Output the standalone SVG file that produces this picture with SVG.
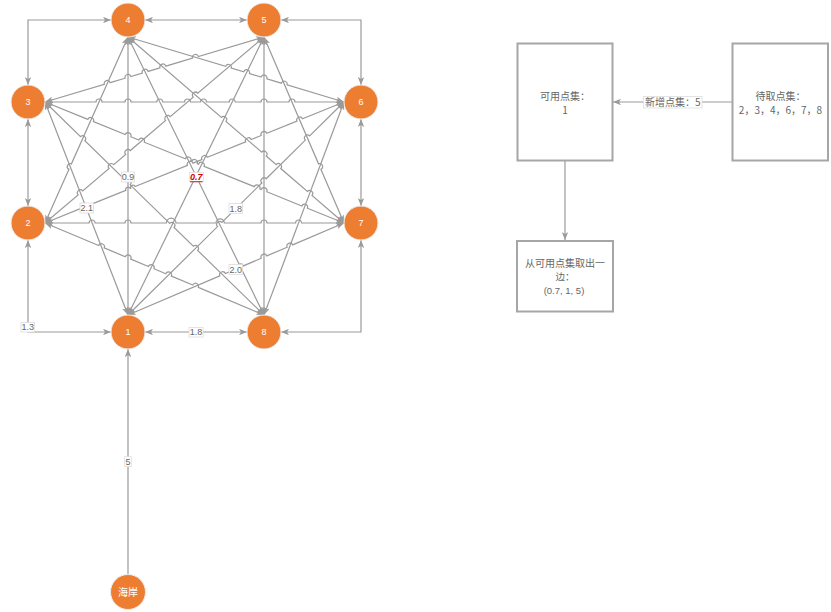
<svg xmlns="http://www.w3.org/2000/svg" width="831" height="612" viewBox="0 0 831 612">
<style>
.e{fill:none;stroke:#9a9a9a;stroke-width:1.2;marker-start:url(#a);marker-end:url(#a)}
.s{fill:none;stroke:#9a9a9a;stroke-width:1.2;marker-end:url(#a)}
.n circle{fill:#ED7D31;stroke:#eeeeee;stroke-width:1}
.n text{fill:#ffffff;font-family:"Liberation Sans","Noto Sans CJK SC",sans-serif;font-size:9px;text-anchor:middle}
.lb rect{fill:#ffffff;stroke:#dddddd;stroke-width:0.8}
.lb text{fill:#666666;font-family:"Liberation Sans",sans-serif;font-size:9px;text-anchor:middle}
.bx rect{fill:#ffffff;stroke:#a6a6a6;stroke-width:2}
.bx text{fill:#666666;font-family:"Noto Sans CJK SC","Liberation Sans",sans-serif;font-size:10px;text-anchor:middle}
.bx text.l{font-family:"Liberation Sans",sans-serif}
</style>
<defs>
<marker id="a" viewBox="0 0 10 8" refX="10" refY="4" markerWidth="8" markerHeight="6.4" markerUnits="userSpaceOnUse" orient="auto-start-reverse">
<path d="M0,0 L10,4 L0,8 L2.5,4 z" fill="#9a9a9a"/>
</marker>
</defs>
<g id="connectors">
<path class="e" d="M28,85 L28,20 L111,20"/>
<path class="e" d="M145,20 L247,20"/>
<path class="e" d="M281,20 L361,20 L361,85"/>
<path class="e" d="M361,119 L361,206"/>
<path class="e" d="M361,240 L361,332 L281,332"/>
<path class="e" d="M247,332 L145,332"/>
<path class="e" d="M111,332 L28,332 L28,240"/>
<path class="e" d="M28,206 L28,119"/>
<path class="s" d="M128,575 L128,349"/>
<path class="e" d="M45,102 L128,315"/>
<path class="e" d="M128,37 L128,315"/>
<path class="e" d="M128,315 L264,37"/>
<path class="e" d="M264,37 L264,315"/>
<path class="e" d="M344,102 L264,315"/>
<path class="e" d="M45,223 L68.98,169.34 A3,3 0 0 1 71.42,163.86 L128,37"/>
<path class="e" d="M128,37 L194.68,173.31 A3,3 0 0 1 197.32,178.70 L264,315"/>
<path class="e" d="M264,37 L318.52,163.84 A3,3 0 0 1 320.89,169.36 L344,223"/>
<path class="e" d="M128,315 L217.56,226.61 A3,3 0 0 1 221.84,222.39 L261.86,183.01 A3,3 0 0 1 266.14,178.79 L305.36,140.11 A3,3 0 0 1 309.64,135.89 L344,102"/>
<path class="e" d="M128,315 L219.84,275.88 A3,3 0 0 1 225.36,273.52 L237.84,268.28 A3,3 0 0 1 243.36,265.92 L261.24,258.28 A3,3 0 0 1 266.76,255.92 L287.14,247.28 A3,3 0 0 1 292.66,244.92 L344,223"/>
<path class="e" d="M45,223 L78.11,194.84 A3,3 0 0 1 82.69,190.96 L109.11,168.54 A3,3 0 0 1 113.69,164.66 L125.71,154.44 A3,3 0 0 1 130.29,150.56 L165.61,120.54 A3,3 0 0 1 170.19,116.66 L193.21,97.12 A3,3 0 0 1 197.79,93.24 L264,37"/>
<path class="e" d="M45,223 L82.92,207.66 A3,3 0 0 1 88.48,205.41 L125.78,190.31 A2.4,2.4 0 0 1 130.22,188.51 L130.68,188.33 A2.4,2.4 0 0 1 135.12,186.53 L187.42,165.36 A3,3 0 0 1 192.98,163.11 L201.82,159.54 A3,3 0 0 1 207.38,157.29 L245.62,141.81 A3,3 0 0 1 251.18,139.56 L261.22,135.50 A3,3 0 0 1 266.78,133.25 L296.92,121.05 A3,3 0 0 1 302.48,118.80 L344,102"/>
<path class="e" d="M45,223 L89.1,223 A3,3 0 0 1 95.1,223 L125,223 A3,3 0 0 1 131,223 L166.4,223 A4.8,4.8 0 0 1 176,223 L216,223 A4.15,4.15 0 0 1 224.3,223 L261,223 A3,3 0 0 1 267,223 L295.6,223 A3,3 0 0 1 301.6,223 L344,223"/>
<path class="e" d="M45,223 L98.63,245.54 A3,3 0 0 1 104.17,247.86 L125.23,256.74 A3,3 0 0 1 130.77,259.06 L148.43,266.46 A3,3 0 0 1 153.97,268.78 L165.83,273.77 A3,3 0 0 1 171.37,276.09 L192.73,285.07 A3,3 0 0 1 198.27,287.39 L264,315"/>
<path class="e" d="M45,102 L104.32,84.39 A3,3 0 0 1 110.08,82.69 L125.12,78.22 A3,3 0 0 1 130.88,76.52 L142.32,73.12 A3,3 0 0 1 148.08,71.42 L160.02,67.86 A3,3 0 0 1 165.78,66.16 L192.62,58.19 A3,3 0 0 1 198.38,56.49 L264,37"/>
<path class="e" d="M45,102 L96,102 A3,3 0 0 1 102,102 L125,102 A3,3 0 0 1 131,102 L156.8,102 A3,3 0 0 1 162.8,102 L184.5,102 A3,3 0 0 1 190.5,102 L200.5,102 A3,3 0 0 1 206.5,102 L229.2,102 A3,3 0 0 1 235.2,102 L261,102 A3,3 0 0 1 267,102 L289,102 A3,3 0 0 1 295,102 L344,102"/>
<path class="e" d="M45,102 L87.92,119.38 A3,3 0 0 1 93.48,121.63 L125.22,134.47 A3,3 0 0 1 130.78,136.72 L138.72,139.94 A3,3 0 0 1 144.28,142.19 L185.32,158.79 A3,3 0 0 1 190.88,161.04 L191.72,161.38 A3,3 0 0 1 197.28,163.63 L198.52,164.14 A3,3 0 0 1 204.08,166.39 L254.22,186.68 A3,3 0 0 1 259.78,188.93 L261.22,189.51 A3,3 0 0 1 266.78,191.76 L301.82,205.94 A3,3 0 0 1 307.38,208.19 L344,223"/>
<path class="e" d="M45,102 L80.55,136.57 A3,3 0 0 1 84.85,140.75 L125.85,180.63 A3,3 0 0 1 130.15,184.81 L169.75,223.33 A3,3 0 0 1 174.05,227.51 L193.35,246.28 A3,3 0 0 1 197.65,250.46 L264,315"/>
<path class="e" d="M128,37 L225.53,66.35 A3,3 0 0 1 231.27,68.08 L243.73,71.82 A3,3 0 0 1 249.47,73.55 L261.13,77.06 A3,3 0 0 1 266.87,78.79 L281.33,83.14 A3,3 0 0 1 287.07,84.87 L344,102"/>
<path class="e" d="M128,37 L221.43,117.45 A3,3 0 0 1 225.97,121.37 L261.73,152.15 A3,3 0 0 1 266.27,156.07 L276.23,164.64 A3,3 0 0 1 280.77,168.56 L307.43,191.50 A3,3 0 0 1 311.97,195.42 L344,223"/>
<path class="s" d="M732,102 L613,102"/>
<path class="s" d="M565,161 L565,240"/>
<g class="lb">
<rect x="21" y="322.5" width="13.5" height="9.5"/><text x="27.75" y="330.3">1.3</text>
<rect x="189" y="327.5" width="14" height="9.5"/><text x="196" y="335.3">1.8</text>
<rect x="121.5" y="172" width="13" height="10"/><text x="128" y="180.3">0.9</text>
<rect x="80" y="203" width="13.5" height="10"/><text x="86.75" y="211.3">2.1</text>
<rect x="229" y="203.5" width="13.5" height="10"/><text x="235.75" y="211.8">1.8</text>
<rect x="229" y="264.5" width="13.5" height="10"/><text x="235.75" y="272.8">2.0</text>
<rect x="124.7" y="456.7" width="6.6" height="10"/><text x="128" y="465">5</text>
<rect x="189.3" y="172.3" width="14" height="9.5"/><text x="196.3" y="180.3" style="fill:#cc0000;font-weight:bold;font-style:italic;text-decoration:underline">0.7</text>
<rect x="643.5" y="96.5" width="58.5" height="11.5"/><text x="672.75" y="105.6" style="font-family:'Noto Sans CJK SC','Liberation Sans',sans-serif;font-size:10px">新增点集：5</text>
</g>
</g>
<g id="n4" class="n"><circle cx="128" cy="20" r="17"/><text x="128" y="23.2">4</text></g>
<g id="n5" class="n"><circle cx="264" cy="20" r="17"/><text x="264" y="23.2">5</text></g>
<g id="n3" class="n"><circle cx="28" cy="102" r="17"/><text x="28" y="105.2">3</text></g>
<g id="n6" class="n"><circle cx="361" cy="102" r="17"/><text x="361" y="105.2">6</text></g>
<g id="n2" class="n"><circle cx="28" cy="223" r="17"/><text x="28" y="226.2">2</text></g>
<g id="n7" class="n"><circle cx="361" cy="223" r="17"/><text x="361" y="226.2">7</text></g>
<g id="n1" class="n"><circle cx="128" cy="332" r="17"/><text x="128" y="335.2">1</text></g>
<g id="n8" class="n"><circle cx="264" cy="332" r="17"/><text x="264" y="335.2">8</text></g>
<g id="coast" class="n"><circle cx="128" cy="592" r="17.5"/><text x="128" y="595.8" style="font-family:'Noto Sans CJK SC',sans-serif;font-size:10px">海岸</text></g>
<g id="available" class="bx"><rect x="517.5" y="43.5" width="95" height="117"/><text x="565" y="100.3">可用点集：</text><text x="565" y="114">1</text></g>
<g id="pending" class="bx"><rect x="732.5" y="43.5" width="95.5" height="117"/><text x="780.5" y="100.3">待取点集：</text><text x="780.5" y="114">2，3，4，6，7，8</text></g>
<g id="take" class="bx"><rect x="517" y="241" width="96" height="70.5"/><text x="565" y="266.5">从可用点集取出一</text><text x="565" y="280" style="font-size:9.5px">边：</text><text class="l" x="564" y="294.3" style="font-size:9.5px">(0.7, 1, 5)</text></g>
</svg>
